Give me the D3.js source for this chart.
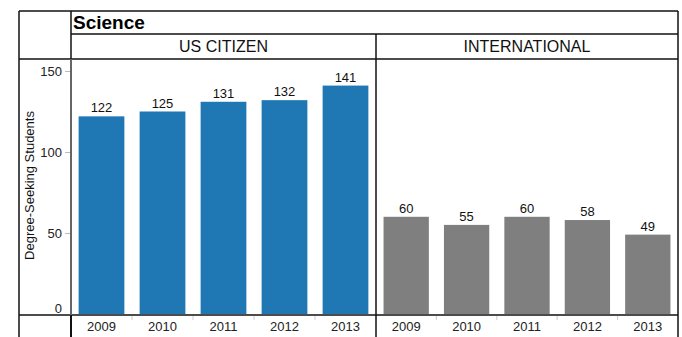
<!DOCTYPE html>
<html>
<head>
<meta charset="utf-8">
<script src="https://cdn.jsdelivr.net/npm/d3@7/dist/d3.min.js"></script>
<style>
  html, body { margin: 0; padding: 0; background: #fff; }
  svg { display: block; font-family: "Liberation Sans", Arial, sans-serif; }
</style>
</head>
<body>
<svg id="chart" width="682" height="337"></svg>
<script>
// Degree-seeking students in Science, by citizenship and year
const years = ["2009", "2010", "2011", "2012", "2013"];
const usCitizen = [122, 125, 131, 132, 141];
const international = [60, 55, 60, 58, 49];
const groups = ["US CITIZEN", "INTERNATIONAL"];
const yTicks = [0, 50, 100, 150];
const title = "Science";
const yLabel = "Degree-Seeking Students";

const svg = d3.select("#chart");

// layout frame
const outerLeft = 19, axisCol = 71, rightEdge = 678;
const frameTop = 11, titleBottom = 34, headerBottom = 59, plotBottom = 315, frameBottom = 337;
const panelEdges = [axisCol, 376, rightEdge];
const colors = ["#1f77b4", "#7f7f7f"];
const series = [usCitizen, international];

const y = d3.scaleLinear().domain([0, 150]).range([314, 71]);

// panels
groups.forEach((g, i) => {
  const x0 = panelEdges[i], x1 = panelEdges[i + 1];
  const x = d3.scaleBand().domain(years).range([x0, x1])
    .paddingInner(0.25).paddingOuter(0.125);
  const data = years.map((yr, k) => ({ year: yr, value: series[i][k] }));
  const p = svg.append("g");

  p.selectAll("rect").data(data).join("rect")
    .attr("x", d => x(d.year))
    .attr("width", x.bandwidth())
    .attr("y", d => y(d.value))
    .attr("height", d => y(0) - y(d.value))
    .attr("fill", colors[i]);

  p.selectAll("text.val").data(data).join("text")
    .attr("class", "val")
    .attr("x", d => x(d.year) + x.bandwidth() / 2)
    .attr("y", d => y(d.value) - 4)
    .attr("text-anchor", "middle")
    .attr("font-size", 13)
    .attr("fill", "#111")
    .text(d => d.value);

  // bottom axis with year labels
  const xAxis = d3.axisBottom(x).tickSize(0).tickPadding(7);
  const ax = svg.append("g").attr("transform", `translate(0,${plotBottom})`).call(xAxis);
  ax.select(".domain").remove();
  ax.selectAll("text").attr("font-size", 13).attr("fill", "#222")
    .attr("font-family", "Liberation Sans, Arial, sans-serif");
  // faint separators between year bands
  ax.selectAll("line.sep").data(years.slice(1)).join("line")
    .attr("class", "sep")
    .attr("x1", d => x(d) - x.step() * x.paddingInner() / 2)
    .attr("x2", d => x(d) - x.step() * x.paddingInner() / 2)
    .attr("y1", 1).attr("y2", 5)
    .attr("stroke", "#ccc");

  // header
  svg.append("text")
    .attr("x", (x0 + x1) / 2).attr("y", 52)
    .attr("text-anchor", "middle")
    .attr("font-size", 16).attr("fill", "#111")
    .text(g);
});

// y axis
const yAxis = d3.axisLeft(y).tickValues(yTicks).tickSize(5).tickPadding(3);
const ya = svg.append("g").attr("transform", `translate(${axisCol - 1},0)`).call(yAxis);
ya.select(".domain").remove();
ya.selectAll("line").attr("stroke", "#bbb");
ya.selectAll("text").attr("font-size", 13).attr("fill", "#222")
  .attr("font-family", "Liberation Sans, Arial, sans-serif");
// keep the zero label clear of the frame line
ya.selectAll(".tick").filter(d => d === 0).select("text").attr("dy", "-0.1em");
ya.selectAll(".tick").filter(d => d === 0).select("line").remove();

svg.append("text")
  .attr("transform", `translate(34,185.5) rotate(-90)`)
  .attr("text-anchor", "middle")
  .attr("font-size", 13).attr("fill", "#111")
  .text(yLabel);

// title
svg.append("text")
  .attr("x", axisCol + 2).attr("y", 29)
  .attr("font-size", 19).attr("font-weight", "bold").attr("fill", "#000")
  .text(title);

// grid lines of the layout
const lines = [
  [outerLeft, frameTop, rightEdge, frameTop],
  [axisCol, titleBottom, rightEdge, titleBottom],
  [outerLeft, headerBottom, rightEdge, headerBottom],
  [outerLeft, plotBottom, rightEdge, plotBottom],
  [outerLeft, frameTop, outerLeft, frameBottom],
  [rightEdge, frameTop, rightEdge, frameBottom],
  [axisCol, frameTop, axisCol, headerBottom],
  [panelEdges[1], titleBottom, panelEdges[1], frameBottom]
];
svg.append("g").selectAll("line").data(lines).join("line")
  .attr("x1", d => d[0]).attr("y1", d => d[1])
  .attr("x2", d => d[2]).attr("y2", d => d[3])
  .attr("stroke", "#111").attr("stroke-width", 1.5);

// y axis spine (grey) and below-axis stub
svg.append("line")
  .attr("x1", axisCol).attr("x2", axisCol)
  .attr("y1", headerBottom).attr("y2", plotBottom)
  .attr("stroke", "#666").attr("stroke-width", 2);
svg.append("line")
  .attr("x1", axisCol).attr("x2", axisCol)
  .attr("y1", plotBottom).attr("y2", frameBottom)
  .attr("stroke", "#111").attr("stroke-width", 2);
</script>
</body>
</html>
